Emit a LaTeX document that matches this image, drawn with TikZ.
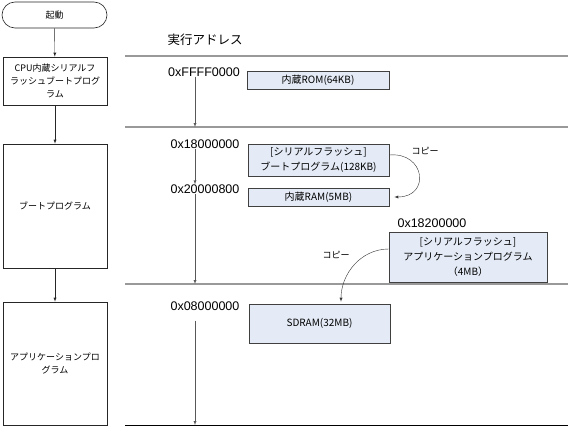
\documentclass[tikz,border=0pt]{standalone}
\usepackage{fontspec}
\setmainfont{Noto Sans CJK JP}
\newfontfamily\addrfont{Liberation Sans}
\usepackage{xcolor}
\usepackage{tikz}
\usetikzlibrary{arrows,positioning}

\definecolor{memfill}{HTML}{E4EBF6}
\tikzset{
  flowbox/.style={draw=black!85, line width=0.6pt, fill=white, align=center, inner sep=1pt,
                  font=\fontsize{9}{13}\selectfont},
  membox/.style={draw=black!75, line width=0.6pt, fill=memfill, align=center, inner sep=1pt,
                 font=\fontsize{10}{15}\selectfont},
  addr/.style={inner sep=0pt, font=\addrfont\fontsize{12.5}{14}\selectfont},
  sepline/.style={draw=black!40, line width=1.5pt},
  flowarrow/.style={draw=black!85, ->, >=latex},
  addrarrow/.style={draw=black!65, ->, >=latex},
  copyarrow/.style={draw=black!80, ->, >=latex}
}

\begin{document}
\begin{tikzpicture}[x=1pt,y=-1pt]
                \useasboundingbox (0,0) rectangle (568,436);

                % flow on the left
                \node [flowbox, rounded corners=13pt, minimum width=105pt, minimum height=26pt]
                                        (start) at (54.5,15) {起動};
                \node [flowbox, minimum width=104pt, minimum height=48pt]
                                        (cpuprog) at (55,81)
                                        {CPU内蔵シリアルフ\\ラッシュブートプログ\\ラム};
                \node [flowbox, minimum width=104pt, minimum height=124pt]
                                        (bootprog) at (55,206) {ブートプログラム};
                \node [flowbox, minimum width=104pt, minimum height=123pt]
                                        (appprog) at (55,363.5) {アプリケーションプロ\\グラム};

                \draw [flowarrow] (start) -- (cpuprog);
                \draw [flowarrow] (cpuprog) -- (bootprog);
                \draw [flowarrow] (bootprog) -- (appprog);

                % separators
                \draw [sepline] (125,56) -- (568,56);
                \draw [sepline] (125,127) -- (568,127);
                \draw [sepline] (125,284) -- (568,284);
                \draw [black, line width=0.8pt] (125,425) -- (568,425);

                \coordinate (l2) at (195,127);
                \coordinate (l3) at (195,284);
                \coordinate (l4) at (195,425);

                % addresses
                \node [font=\fontsize{12.5}{14}\selectfont] (head) at (205,40) {実行アドレス};
                \node [addr] (a1) at (204,72) {0xFFFF0000};
                \node [addr] (a2) at (205,144) {0x18000000};
                \node [addr] (a3) at (205,189) {0x20000800};
                \node [addr] (a4) at (205,306) {0x08000000};
                \node [addr] (a5) at (432,223) {0x18200000};

                \draw [addrarrow] (a1.south -| l2) -- (l2);
                \draw [addrarrow] (a2.south -| l2) -- (a3.north -| l2);
                \draw [addrarrow] (a3.south -| l3) -- (l3);
                \draw [addrarrow, shorten <=10pt] (a4.south -| l4) -- (l4);

                % memory areas
                \node [membox, minimum width=142pt, minimum height=18pt]
                                        (rom) at (318,80) {内蔵ROM(64KB)};
                \node [membox, minimum width=141pt, minimum height=32pt]
                                        (sfboot) at (318.5,160)
                                        {[シリアルフラッシュ]\\ブートプログラム(128KB)};
                \node [membox, minimum width=141pt, minimum height=18pt]
                                        (ram) at (318.5,197) {内蔵RAM(5MB)};
                \node [membox, minimum width=158pt, minimum height=50pt]
                                        (sfapp) at (468,257)
                                        {[シリアルフラッシュ]\\アプリケーションプログラム\\（4MB）};
                \node [membox, minimum width=141pt, minimum height=39pt]
                                        (sdram) at (319.5,323.5) {SDRAM(32MB)};

                % copies
                \draw [copyarrow] ([yshift=5pt]sfboot.east) to[out=5, in=0, looseness=2.2]
                                        ([xshift=5pt]ram.east);
                \node [font=\fontsize{9}{11}\selectfont] (copy1) at (425,151) {コピー};
                \draw [copyarrow] ([yshift=8pt]sfapp.west) to[out=180, in=90]
                                        ([xshift=21.5pt,yshift=2pt]sdram.north);
                \node [font=\fontsize{9}{11}\selectfont] (copy2) at (336,255) {コピー};
            \end{tikzpicture}
\end{document}
